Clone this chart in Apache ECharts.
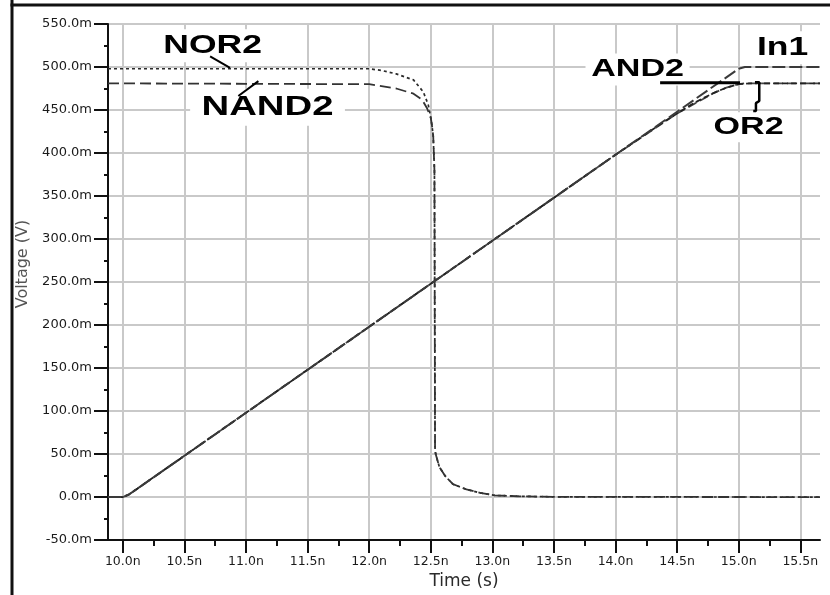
<!DOCTYPE html>
<html>
<head>
<meta charset="utf-8">
<script src="https://cdn.jsdelivr.net/npm/echarts@6/dist/echarts.min.js"></script>
<style>
  html, body { margin: 0; padding: 0; background: #fff; }
  #chart { width: 830px; height: 595px; }
</style>
</head>
<body>
<div id="chart"></div>
<script>
// Gate outputs while input In1 ramps from 0 to 500 mV (time in ns, voltage in mV)
const xTickValues = [10.0, 10.5, 11.0, 11.5, 12.0, 12.5, 13.0, 13.5, 14.0, 14.5, 15.0, 15.5];
const xMinorTickValues = [10.25, 10.75, 11.25, 11.75, 12.25, 12.75, 13.25, 13.75, 14.25, 14.75, 15.25];
const xRange = [9.88, 15.66];
const yRange = [-50, 550];
const yStep = 50;

const in1 = [[9.88, 0], [10.0, 0], [10.05, 3], [10.5, 48], [11.0, 98], [12.0, 198], [13.0, 298],
  [14.0, 398], [14.5, 448], [15.0, 498], [15.05, 500], [15.66, 500]];
const and2 = [[9.88, 0], [10.0, 0], [10.05, 3], [10.5, 48], [11.0, 98], [12.0, 198], [13.0, 298],
  [14.0, 398], [14.4, 437], [14.6, 455], [14.7, 463], [14.8, 470], [14.9, 476], [15.0, 480],
  [15.1, 481], [15.66, 481]];
const or2 = [[9.88, 0], [10.0, 0], [10.05, 3], [10.5, 48], [11.0, 98], [12.0, 198], [13.0, 298],
  [14.0, 398], [14.5, 446], [14.7, 462], [14.8, 470], [14.9, 476], [15.0, 480], [15.05, 481],
  [15.66, 481]];
const nor2 = [[9.88, 498], [12.0, 498], [12.1, 496], [12.22, 492], [12.36, 485], [12.44, 471],
  [12.48, 456], [12.5, 441], [12.51, 432], [12.52, 420], [12.53, 380], [12.535, 55], [12.54, 50],
  [12.57, 35], [12.62, 24], [12.68, 15], [12.79, 9], [12.9, 5], [13.02, 2], [13.2, 1],
  [13.5, 0.3], [15.66, 0]];
const nand2 = [[9.88, 481], [12.0, 480], [12.22, 475], [12.36, 469], [12.43, 462], [12.47, 452],
  [12.5, 441], [12.51, 432], [12.52, 420], [12.53, 380], [12.535, 55], [12.54, 50], [12.57, 35],
  [12.62, 24], [12.68, 15], [12.79, 9], [12.9, 5], [13.02, 2], [13.2, 1], [13.5, 0.3],
  [15.66, 0]];

// Leader lines from each trace name to its trace
const nor2Leader = [[10.709, 512.4], [10.871, 499]];
const nand2Leader = [[10.938, 466.3], [11.101, 483.6]];
const and2Leader = [[14.362, 481.7], [15.011, 481.7]];
const or2Leader = [[15.132, 482.4], [15.167, 482.4], [15.167, 460.5], [15.14, 458], [15.14, 449], [15.118, 449]];

// Trace names, anchored in data coordinates
const traceNames = ['NOR2', 'NAND2', 'AND2', 'In1', 'OR2'];
const traceNameAnchors = [[10.729, 524.7], [11.175, 453.3], [14.179, 497.1], [15.356, 522.4], [15.08, 429.9]];
const traceNameStyle = [
  { size: 25, pad: [6, 6, 2, 6] },
  { size: 27, pad: [6, 8, 4, 8] },
  { size: 24, pad: [4, 4, 4, 4] },
  { size: 25, pad: [4, 3, 4, 3] },
  { size: 24, pad: [3, 4, 3, 4] }
];

const chart = echarts.init(document.getElementById('chart'), null, { renderer: 'canvas' });

const tickFont = { fontFamily: 'DejaVu Sans', fontSize: 13, color: '#1a1a1a' };

function trace(name, data, color, width, dash, z) {
  return {
    name, type: 'line', data, showSymbol: false, symbol: 'none', silent: true,
    z: z || 2, animation: false,
    lineStyle: { color, width, type: dash }
  };
}

function leader(data, width) {
  return {
    type: 'line', data, showSymbol: false, symbol: 'none', silent: true, z: 4,
    animation: false, lineStyle: { color: '#000', width, type: 'solid' }
  };
}

chart.setOption({
  backgroundColor: '#fff',
  animation: false,
  grid: { left: 108, right: 10, top: 24, bottom: 50, containLabel: false },
  xAxis: [
    {
      type: 'value', min: xRange[0], max: xRange[1], position: 'bottom',
      name: 'Time (s)', nameLocation: 'middle', nameGap: 28,
      nameTextStyle: { fontFamily: 'DejaVu Sans', fontSize: 17, color: '#2a2a2a' },
      axisLine: { show: true, onZero: false, lineStyle: { color: '#111', width: 2 } },
      axisTick: { show: true, customValues: xTickValues, length: 13, inside: false,
        lineStyle: { color: '#111', width: 2 } },
      axisLabel: { show: true, customValues: xTickValues, margin: 15, ...tickFont, fontSize: 12.5,
        formatter: v => v.toFixed(1) + 'n' },
      splitLine: { show: false }
    },
    {
      type: 'value', min: xRange[0], max: xRange[1], position: 'bottom',
      axisLine: { show: false, onZero: false },
      axisTick: { show: true, customValues: xMinorTickValues, length: 6, inside: false,
        lineStyle: { color: '#111', width: 2 } },
      axisLabel: { show: false },
      splitLine: { show: false }
    }
  ],
  yAxis: {
    type: 'value', min: yRange[0], max: yRange[1], interval: yStep,
    name: 'Voltage (V)', nameLocation: 'middle', nameGap: 72, nameRotate: 90,
    nameTextStyle: { fontFamily: 'DejaVu Sans', fontSize: 16, color: '#555', padding: [0, 0, 0, 36] },
    axisLine: { show: true, onZero: false, lineStyle: { color: '#111', width: 2 } },
    axisTick: { show: true, length: 14, lineStyle: { color: '#111', width: 2 } },
    minorTick: { show: true, splitNumber: 2, length: 4, lineStyle: { color: '#111', width: 2 } },
    axisLabel: { margin: 16, ...tickFont, formatter: v => v.toFixed(1) + 'm' },
    splitLine: { show: true, lineStyle: { color: '#c9c9c9', width: 2 } }
  },
  series: [
    {
      type: 'line', data: [], silent: true, z: 0,
      markLine: {
        z: 0, silent: true, symbol: 'none', animation: false,
        label: { show: false },
        lineStyle: { color: '#c9c9c9', width: 2, type: 'solid' },
        data: xTickValues.map(v => ({ xAxis: v }))
      }
    },
    trace('NOR2', nor2, '#2a2a2a', 1.7, [3, 3]),
    trace('NAND2', nand2, '#333', 1.8, [11, 5]),
    trace('OR2', or2, '#444', 1.8, [9, 4]),
    trace('AND2', and2, '#222', 1.8, [6, 3]),
    trace('In1', in1, '#3a3a3a', 2, [13, 4], 3),
    leader(nor2Leader, 2),
    leader(nand2Leader, 2),
    leader(and2Leader, 3),
    leader(or2Leader, 2.5)
  ]
});

// Trace names: wide bold lettering on white boxes, positioned through the grid's scales
const nameGraphics = traceNames.map((text, i) => {
  const p = chart.convertToPixel({ gridIndex: 0 }, traceNameAnchors[i]);
  const s = traceNameStyle[i];
  return {
    type: 'text', x: p[0], y: p[1], scaleX: 1.42, z: 1, silent: true,
    style: {
      text, x: 0, y: 0, align: 'center', verticalAlign: 'middle',
      font: 'bold ' + s.size + 'px "Liberation Sans", Arial, sans-serif',
      fill: '#000', backgroundColor: '#fff', padding: s.pad
    }
  };
});

chart.setOption({
  graphic: [
    ...nameGraphics,
    { type: 'line', z: 10, silent: true, shape: { x1: 12, y1: 0, x2: 12, y2: 595 },
      style: { stroke: '#111', lineWidth: 3 } },
    { type: 'line', z: 10, silent: true, shape: { x1: 10.5, y1: 5, x2: 830, y2: 5 },
      style: { stroke: '#111', lineWidth: 3 } }
  ]
});
</script>
</body>
</html>
